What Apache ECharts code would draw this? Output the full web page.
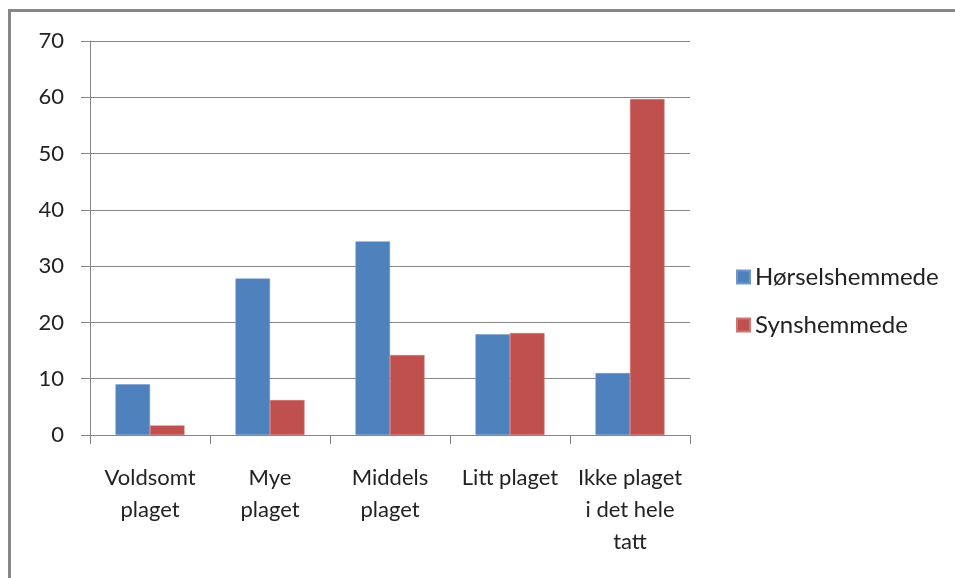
<!DOCTYPE html>
<html>
<head>
<meta charset="utf-8">
<script src="https://cdn.jsdelivr.net/npm/echarts@6/dist/echarts.min.js"></script>
<style>
html,body{margin:0;padding:0;background:#fff;}
#chart{width:955px;height:578px;}
</style>
</head>
<body>
<div id="chart"></div>
<script>
const categories = ["Voldsomt\nplaget", "Mye\nplaget", "Middels\nplaget", "Litt plaget", "Ikke plaget\ni det hele\ntatt"];
const seriesNames = ["Hørselshemmede", "Synshemmede"];
const horsel = [9.0, 27.8, 34.4, 17.9, 11.0];
const synsh = [1.7, 6.2, 14.2, 18.1, 59.7];
const yTicks = { min: 0, max: 70, interval: 10 };

const FONT = "Lato";
const chart = echarts.init(document.getElementById('chart'), null, {renderer: 'canvas'});
chart.setOption({
  animation: false,
  backgroundColor: '#ffffff',
  textStyle: { fontFamily: FONT },
  graphic: [
    {
      type: 'line',
      shape: { x1: 8, y1: 10.5, x2: 955, y2: 10.5 },
      style: { stroke: '#878787', lineWidth: 3 },
      silent: true
    },
    {
      type: 'line',
      shape: { x1: 9.5, y1: 9, x2: 9.5, y2: 578 },
      style: { stroke: '#878787', lineWidth: 3 },
      silent: true
    }
  ],
  grid: { left: 90, right: 265, top: 41, bottom: 143, containLabel: false },
  legend: {
    orient: 'vertical',
    left: 731,
    top: 259,
    itemWidth: 13,
    itemHeight: 13,
    itemGap: 22,
    icon: 'rect',
    textStyle: { fontFamily: FONT, fontSize: 24, color: '#222', lineHeight: 26 },
    data: seriesNames
  },
  xAxis: {
    type: 'category',
    data: categories,
    boundaryGap: true,
    axisLine: { show: true, lineStyle: { color: '#868686', width: 1 } },
    axisTick: { show: true, length: 9, lineStyle: { color: '#868686' } },
    axisLabel: {
      interval: 0,
      margin: 27,
      fontFamily: FONT,
      fontSize: 22,
      lineHeight: 32,
      color: '#222'
    },
    splitLine: { show: false }
  },
  yAxis: {
    type: 'value',
    min: yTicks.min,
    max: yTicks.max,
    interval: yTicks.interval,
    axisLine: { show: true, lineStyle: { color: '#868686', width: 1 } },
    axisTick: { show: true, length: 9, lineStyle: { color: '#868686' } },
    axisLabel: { margin: 26, fontFamily: FONT, fontSize: 22, color: '#222' },
    splitLine: { show: true, lineStyle: { color: '#868686', width: 1 } }
  },
  series: [
    {
      name: seriesNames[0],
      type: 'bar',
      data: horsel,
      barGap: '0%',
      barCategoryGap: '42.5%',
      itemStyle: { color: '#4F81BD', borderColor: '#6f97c9', borderWidth: 0.5 }
    },
    {
      name: seriesNames[1],
      type: 'bar',
      data: synsh,
      barGap: '0%',
      barCategoryGap: '42.5%',
      itemStyle: { color: '#C0504D', borderColor: '#cf7573', borderWidth: 0.5 }
    }
  ]
});
</script>
</body>
</html>
